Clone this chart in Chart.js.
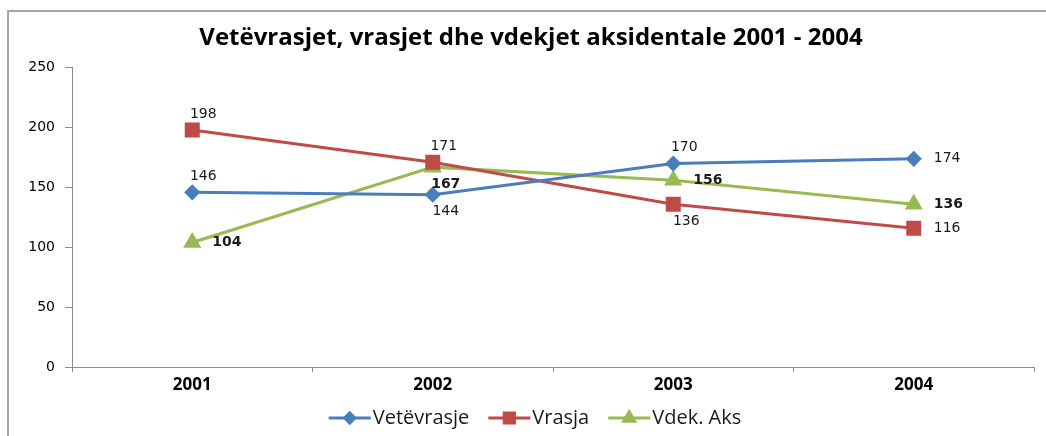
<!DOCTYPE html>
<html>
<head>
<meta charset="utf-8">
<script src="https://cdn.jsdelivr.net/npm/chart.js@4.4.1/dist/chart.umd.min.js"></script>
<style>
    html, body { margin: 0; padding: 0; background: #fff; }
    #wrap { position: relative; width: 1046px; height: 436px; }
    #frame { position: absolute; left: 7px; top: 10px; right: -4px; bottom: -4px;
             border-left: 2px solid #a6a6a6; border-top: 2px solid #a6a6a6; pointer-events: none; }
</style>
</head>
<body>
<div id="wrap">
    <canvas id="chart" width="1046" height="436"></canvas>
    <div id="frame"></div>
</div>
<script>
// Data
const years = ['2001', '2002', '2003', '2004'];
const vetevrasje = [146, 144, 170, 174];
const vrasja = [198, 171, 136, 116];
const vdekAks = [104, 167, 156, 136];
const yTicks = [0, 50, 100, 150, 200, 250];

// where each value label sits next to its point
const vetevrasjeLabelPos = ['top', 'bottom', 'top', 'right'];
const vrasjaLabelPos = ['top', 'top', 'bottom', 'right'];
const vdekAksLabelPos = ['right', 'bottom', 'right', 'right'];

const titleFont = "'Open Sans', 'DejaVu Sans', sans-serif";
const numFont = "'DejaVu Sans', Verdana, sans-serif";

// Draws the value next to each point
const valueLabels = {
    id: 'valueLabels',
    afterDatasetsDraw(chart) {
        const ctx = chart.ctx;
        ctx.save();
        chart.data.datasets.forEach((ds, i) => {
            const meta = chart.getDatasetMeta(i);
            ctx.font = (ds.labelBold ? 'bold ' : '') + '14px ' + numFont;
            ctx.fillStyle = '#1a1a1a';
            ctx.textBaseline = 'middle';
            meta.data.forEach((pt, j) => {
                const pos = ds.labelPos[j];
                const txt = String(ds.data[j]);
                if (pos === 'right') {
                    ctx.textAlign = 'left';
                    ctx.fillText(txt, pt.x + 20, pt.y);
                } else if (pos === 'top') {
                    ctx.textAlign = 'center';
                    ctx.fillText(txt, pt.x + 11, pt.y - 16);
                } else {
                    ctx.textAlign = 'center';
                    ctx.fillText(txt, pt.x + 13, pt.y + 17);
                }
            });
        });
        ctx.restore();
    }
};

// Excel style legend: short line with the marker in the middle
const lineLegend = {
    id: 'lineLegend',
    afterDraw(chart) {
        const ctx = chart.ctx;
        ctx.save();
        ctx.font = '20px ' + titleFont;
        ctx.textBaseline = 'middle';
        const y = 418;
        const lineW = 42, gap = 2, spacing = 19;
        const items = chart.data.datasets.map(ds => ({ ds, w: ctx.measureText(ds.label).width }));
        let total = items.reduce((s, it) => s + lineW + gap + it.w, 0) + spacing * (items.length - 1);
        let x = 318 + (434 - total) / 2;
        items.forEach(it => {
            ctx.strokeStyle = it.ds.borderColor;
            ctx.lineWidth = 3;
            ctx.beginPath();
            ctx.moveTo(x, y);
            ctx.lineTo(x + lineW, y);
            ctx.stroke();
            Chart.helpers.drawPoint(ctx, {
                pointStyle: it.ds.pointStyle,
                radius: it.ds.pointRadius * 0.85,
                borderWidth: 1
            }, x + lineW / 2, y);
            ctx.fillStyle = it.ds.borderColor;
            ctx.fill();
            ctx.fillStyle = '#1a1a1a';
            ctx.textAlign = 'left';
            ctx.fillText(it.ds.label, x + lineW + gap, y);
            x += lineW + gap + it.w + spacing;
        });
        ctx.restore();
    }
};

const ctx = document.getElementById('chart').getContext('2d');
new Chart(ctx, {
    type: 'line',
    data: {
        labels: years,
        datasets: [
            {
                label: 'Vetëvrasje', data: vetevrasje, labelPos: vetevrasjeLabelPos,
                borderColor: '#4a7ebb', backgroundColor: '#4a7ebb',
                pointStyle: 'rectRot', pointRadius: 6, borderWidth: 3
            },
            {
                label: 'Vrasja', data: vrasja, labelPos: vrasjaLabelPos,
                borderColor: '#be4b48', backgroundColor: '#be4b48',
                pointStyle: 'rect', pointRadius: 8.5, borderWidth: 3
            },
            {
                label: 'Vdek. Aks', data: vdekAks, labelPos: vdekAksLabelPos, labelBold: true,
                borderColor: '#98b954', backgroundColor: '#98b954',
                pointStyle: 'triangle', pointRadius: 7.5, borderWidth: 3
            }
        ]
    },
    options: {
        responsive: false,
        animation: false,
        layout: { padding: { left: 28, right: 12, top: 0, bottom: 0 } },
        elements: {
            line: { tension: 0 },
            point: { borderWidth: 1, hoverRadius: 8 }
        },
        plugins: {
            legend: { display: false },
            tooltip: { enabled: false },
            title: {
                display: true,
                text: 'Vetëvrasjet, vrasjet dhe vdekjet aksidentale 2001 - 2004',
                color: '#000',
                font: { family: titleFont, size: 24, weight: 'bold' },
                padding: { top: 24, bottom: 15 }
            }
        },
        scales: {
            x: {
                offset: true,
                grid: { offset: true, drawOnChartArea: false, tickLength: 5, color: '#8c8c8c' },
                border: { color: '#8c8c8c' },
                ticks: { color: '#000', font: { family: titleFont, size: 17, weight: 'bold' }, padding: 3 },
                afterFit(scale) { scale.height = 69; }
            },
            y: {
                min: 0, max: 250,
                afterBuildTicks(scale) { scale.ticks = yTicks.map(v => ({ value: v })); },
                grid: { drawOnChartArea: false, tickLength: 7, color: '#8c8c8c' },
                border: { color: '#8c8c8c' },
                ticks: { color: '#000', font: { family: numFont, size: 14 }, padding: 10 },
                afterFit(scale) { scale.width = 44; }
            }
        }
    },
    plugins: [valueLabels, lineLegend]
});
</script>
</body>
</html>
